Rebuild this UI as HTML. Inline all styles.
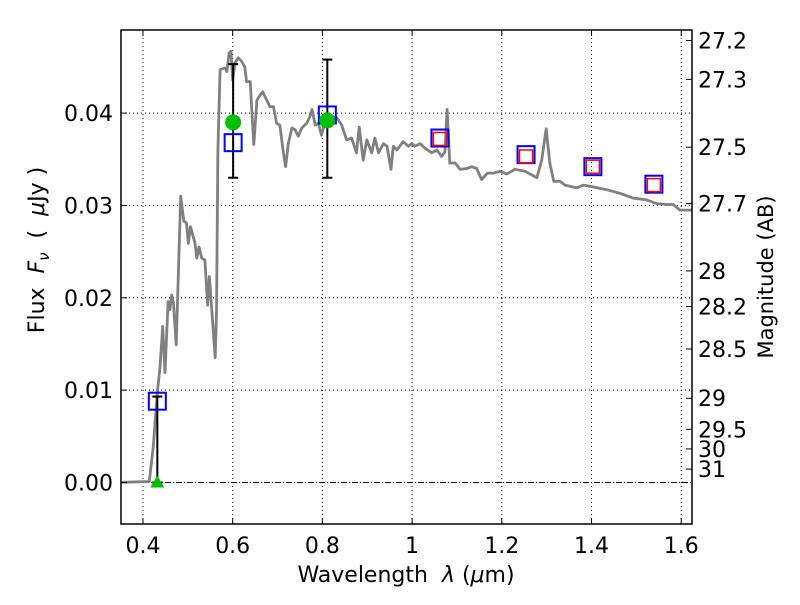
<!DOCTYPE html>
<html><head><meta charset="utf-8"><style>
body{margin:0;background:#fff;}
svg text{font-family:"DejaVu Sans","Liberation Sans",sans-serif;fill:#000;}
</style></head><body>
<svg id="chart" width="800" height="600" xmlns="http://www.w3.org/2000/svg">
<rect width="800" height="600" fill="#fff"/>
<g id="grid"></g>
<g id="marks"></g>
<g id="axes"></g>
<text x="406" y="582" font-size="22" text-anchor="middle">Wavelength&#160;&#160;<tspan font-style="italic">λ</tspan> (<tspan font-style="italic">μ</tspan>m)</text>
<text transform="translate(44,250) rotate(-90)" font-size="22" text-anchor="middle">Flux&#160;&#160;<tspan font-style="italic">F</tspan><tspan font-style="italic" font-size="15" dy="5">ν</tspan><tspan dy="-5">&#160;&#160;(&#160;&#160;</tspan><tspan font-style="italic">μ</tspan>Jy )</text>
<text transform="translate(773,277) rotate(-90)" font-size="21" text-anchor="middle">Magnitude (AB)</text>
</svg>
<script>
const specWave=[0.351,0.414,0.423,0.432,0.438,0.444,0.449,0.456,0.460,0.464,0.468,0.474,0.484,0.491,0.497,0.501,0.506,0.516,0.520,0.525,0.531,0.538,0.544,0.548,0.561,0.564,0.567,0.572,0.583,0.587,0.592,0.596,0.600,0.605,0.612,0.620,0.627,0.631,0.639,0.645,0.647,0.654,0.659,0.667,0.676,0.683,0.691,0.698,0.705,0.713,0.718,0.724,0.732,0.739,0.746,0.754,0.765,0.772,0.777,0.784,0.791,0.798,0.806,0.817,0.832,0.843,0.854,0.865,0.876,0.882,0.891,0.899,0.910,0.917,0.925,0.936,0.944,0.953,0.958,0.966,0.980,0.992,0.999,1.006,1.018,1.029,1.044,1.055,1.066,1.073,1.078,1.084,1.096,1.107,1.122,1.133,1.144,1.155,1.168,1.181,1.196,1.211,1.229,1.252,1.267,1.278,1.289,1.299,1.307,1.316,1.330,1.341,1.367,1.382,1.404,1.434,1.464,1.493,1.523,1.545,1.568,1.582,1.597,1.623];
const specFlux=[0,0.0001,0.0039,0.0097,0.0125,0.0169,0.0119,0.0196,0.0187,0.0203,0.0194,0.0149,0.0310,0.0283,0.0281,0.0259,0.0277,0.0259,0.0243,0.0255,0.0243,0.0241,0.0192,0.0223,0.0135,0.0184,0.0360,0.0447,0.0449,0.0445,0.0465,0.0467,0.0436,0.0454,0.0460,0.0456,0.0450,0.0434,0.0434,0.0382,0.0366,0.0414,0.0418,0.0423,0.0414,0.0407,0.0407,0.0389,0.0387,0.0357,0.0342,0.0367,0.0384,0.0382,0.0375,0.0384,0.0389,0.0396,0.0404,0.0387,0.0389,0.0376,0.0391,0.0396,0.0395,0.0387,0.0371,0.0373,0.0357,0.0385,0.0349,0.0371,0.0357,0.0373,0.0357,0.0367,0.0364,0.0339,0.0364,0.0360,0.0369,0.0364,0.0367,0.0364,0.0367,0.0362,0.0357,0.0360,0.0353,0.0358,0.0404,0.0346,0.0346,0.0339,0.0340,0.0342,0.0340,0.0328,0.0335,0.0335,0.0337,0.0334,0.0339,0.0337,0.0333,0.0330,0.0349,0.0383,0.0346,0.0326,0.0326,0.0322,0.0319,0.0322,0.0320,0.0317,0.0313,0.0308,0.0306,0.0302,0.0301,0.0301,0.0295,0.0295];
const obsWave=[0.601,0.811];
const obsFlux=[0.0390,0.0392];
const obsLo=[0.0330,0.0330];
const obsHi=[0.0453,0.0458];
const limWave=[0.432];
const limFlux=[0.0];
const limHi=[0.0093];
const modelWave=[0.432,0.601,0.811,1.062,1.254,1.403,1.539];
const modelFlux=[0.0088,0.0368,0.0398,0.0373,0.0355,0.0342,0.0323];
const synthWave=[1.062,1.254,1.403,1.539];
const synthFlux=[0.0372,0.0353,0.0342,0.0322];
const xTicks=[0.4,0.6,0.8,1.0,1.2,1.4,1.6];
const xTickLabels=["0.4","0.6","0.8","1","1.2","1.4","1.6"];
const yTicks=[0,0.01,0.02,0.03,0.04];
const yTickLabels=["0.00","0.01","0.02","0.03","0.04"];
const magTicks=[27.2,27.3,27.5,27.7,28,28.2,28.5,29,29.5,30,31];

const L=121,R=692,T=30,B=524;
const xmin=0.351,xmax=1.624,ymin=-0.0045,ymax=0.0490;
const X=v=>L+(v-xmin)/(xmax-xmin)*(R-L);
const Y=v=>B-(v-ymin)/(ymax-ymin)*(B-T);
const NS="http://www.w3.org/2000/svg";
function mk(tag,attrs,parent){const e=document.createElementNS(NS,tag);for(const k in attrs)e.setAttribute(k,attrs[k]);parent.appendChild(e);return e;}
const grid=document.getElementById('grid'),marks=document.getElementById('marks'),axes=document.getElementById('axes');

xTicks.forEach((t,i)=>{
  const g=mk('line',{x1:X(t),x2:X(t),y1:T,y2:B,stroke:'#000','stroke-width':1,'stroke-dasharray':'1,3'},grid);
  
  
  mk('line',{x1:X(t),x2:X(t),y1:B,y2:B-6,stroke:'#000'},axes);
  mk('line',{x1:X(t),x2:X(t),y1:T,y2:T+6,stroke:'#000'},axes);
  const tx=mk('text',{x:X(t),y:B+29,'font-size':22,'text-anchor':'middle'},axes);
  tx.textContent=xTickLabels[i];
  
  
});
yTicks.forEach((t,i)=>{
  if(t!==0){
    const g=mk('line',{x1:L,x2:R,y1:Y(t),y2:Y(t),stroke:'#000','stroke-width':1,'stroke-dasharray':'1,3'},grid);
    
    
  }
  mk('line',{x1:L,x2:L+6,y1:Y(t),y2:Y(t),stroke:'#000'},axes);
  const tx=mk('text',{x:L-8,y:Y(t)+8,'font-size':22,'text-anchor':'end'},axes);
  tx.textContent=yTickLabels[i];
  
  
});
const zl=mk('line',{x1:L,x2:R,y1:Y(0),y2:Y(0),stroke:'#000','stroke-width':1,'stroke-dasharray':'6,2,1,2'},grid);



magTicks.forEach(m=>{
  const f=Math.pow(10,(23.9-m)/2.5);
  const y=Y(f);
  mk('line',{x1:R,x2:R-6,y1:y,y2:y,stroke:'#000'},axes);
  const tx=mk('text',{x:R+6,y:y+8,'font-size':22},axes);
  tx.textContent=String(m);
  
  
});

const pts=specWave.map((w,i)=>X(w).toFixed(1)+','+Y(specFlux[i]).toFixed(1)).join(' ');
const sp=mk('polyline',{points:pts,fill:'none',stroke:'#808080','stroke-width':2.8,'stroke-linejoin':'round'},marks);



function errbar(x,lo,hi){
  const g=mk('g',{},marks);
  
  
  mk('line',{x1:X(x),x2:X(x),y1:Y(lo),y2:Y(hi),stroke:'#000','stroke-width':2},g);
  mk('line',{x1:X(x)-5,x2:X(x)+5,y1:Y(lo),y2:Y(lo),stroke:'#000','stroke-width':2},g);
  mk('line',{x1:X(x)-5,x2:X(x)+5,y1:Y(hi),y2:Y(hi),stroke:'#000','stroke-width':2},g);
}
limWave.forEach((w,i)=>{
  errbar(w,limFlux[i],limHi[i]);
  const x=X(w),y=Y(limFlux[i]);
  const t=mk('polygon',{points:`${x},${y-7} ${x-7},${y+5} ${x+7},${y+5}`,fill:'#00c000'},marks);
  
  
});
obsWave.forEach((w,i)=>{
  errbar(w,obsLo[i],obsHi[i]);
});
modelWave.forEach((w,i)=>{
  const r=mk('rect',{x:X(w)-8.5,y:Y(modelFlux[i])-8.5,width:17,height:17,fill:'none',stroke:'#0000ff','stroke-width':2},marks);
  
  
});
synthWave.forEach((w,i)=>{
  const r=mk('rect',{x:X(w)-6.5,y:Y(synthFlux[i])-6.5,width:13,height:13,fill:'none',stroke:'#ff0000','stroke-width':1.5},marks);
  
  
});
obsWave.forEach((w,i)=>{
  const c=mk('circle',{cx:X(w),cy:Y(obsFlux[i]),r:8,fill:'#00c000'},marks);
  
  
});
const fr=mk('rect',{x:L,y:T,width:R-L,height:B-T,fill:'none',stroke:'#000','stroke-width':1.5},axes);


</script>
</body></html>
